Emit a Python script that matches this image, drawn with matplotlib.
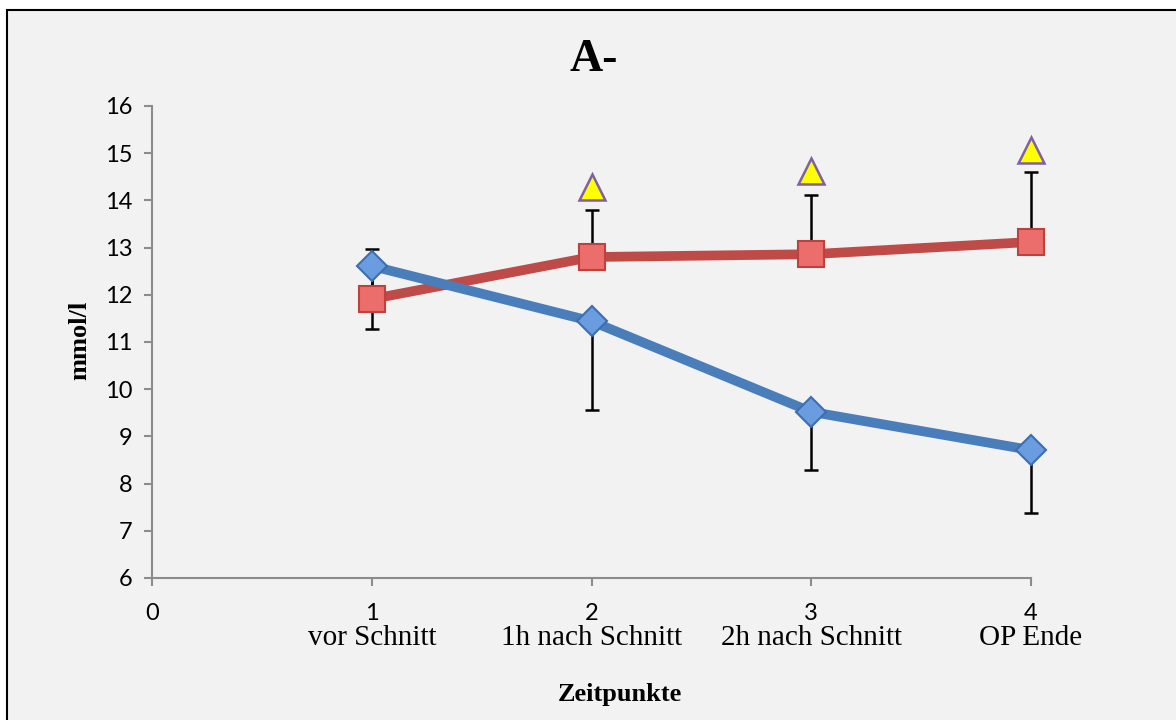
import matplotlib
matplotlib.use("Agg")
import matplotlib.pyplot as plt
from matplotlib.patches import Rectangle
from matplotlib.transforms import blended_transform_factory

# time points and labels
x = [1, 2, 3, 4]
categories = ["vor Schnitt", "1h nach Schnitt", "2h nach Schnitt", "OP Ende"]

# blue series (falls), error bars downward
blue = [12.61, 11.44, 9.52, 8.71]
blue_err = [1.33, 1.88, 1.23, 1.33]

# red series (rises), error bars upward
red = [11.91, 12.80, 12.86, 13.12]
red_err = [1.06, 1.00, 1.25, 1.48]

# significance triangles
tri_x = [2, 3, 4]
tri_y = [14.28, 14.62, 15.07]

SANS = "Lato"
SERIF = "Liberation Serif"

fig = plt.figure(figsize=(11.76, 7.2), dpi=100)
fig.patch.set_facecolor("white")
fig.patches.append(Rectangle((7 / 1176, -0.1), 1.2, 1 - 10 / 720 + 0.1,
                             transform=fig.transFigure, facecolor="#f2f2f2",
                             edgecolor="black", linewidth=1.5, zorder=-10))

ax = fig.add_axes([152 / 1176, 1 - 578 / 720, (1031 - 152) / 1176, (578 - 106) / 720])
ax.set_facecolor("none")

for yv, lo, hi in [(blue, blue_err, [0] * 4), (red, [0] * 4, red_err)]:
    eb = ax.errorbar(x, yv, yerr=[lo, hi], fmt="none", ecolor="black",
                     elinewidth=1.8, capsize=4.7, capthick=1.8, zorder=2)
    for art in eb.lines[1] + eb.lines[2]:
        art.set_clip_on(False)

ax.plot(x, blue, color="#4a7ebb", linewidth=7, marker="D", markersize=15,
        markerfacecolor="#6a9de0", markeredgecolor="#3c6eb0",
        markeredgewidth=1.5, zorder=4, clip_on=False)
ax.plot(x, red, color="#be4b48", linewidth=7, marker="s", markersize=19,
        markerfacecolor="#ec6e6c", markeredgecolor="#c0403d",
        markeredgewidth=1.5, zorder=3, clip_on=False)
ax.plot(tri_x, tri_y, linestyle="none", marker="^", markersize=19,
        markerfacecolor="#ffff00", markeredgecolor="#7f5fa8",
        markeredgewidth=1.8, zorder=5, clip_on=False)

ax.set_xlim(0, 4)
ax.set_ylim(6, 16)
ax.set_xticks([0, 1, 2, 3, 4])
ax.set_yticks(range(6, 17))
for s in ["top", "right"]:
    ax.spines[s].set_visible(False)
for s in ["left", "bottom"]:
    ax.spines[s].set_color("#8c8c8c")
    ax.spines[s].set_linewidth(1.5)
ax.tick_params(direction="out", color="#8c8c8c", width=1.5, length=6,
               labelsize=17, pad=8)
ax.tick_params(axis="x", pad=12)
for lab in ax.get_xticklabels() + ax.get_yticklabels():
    lab.set_fontfamily(SANS)

tr = blended_transform_factory(ax.transData, fig.transFigure)
for xi, cat in zip(x, categories):
    ax.text(xi, 1 - 638 / 720, cat, transform=tr, ha="center", va="center",
            fontsize=21, fontfamily=SERIF)

fig.text(620 / 1176, 1 - 695 / 720, "Zeitpunkte", ha="center", va="center",
         fontsize=19, fontweight="bold", fontfamily=SERIF)
fig.text(80 / 1176, 1 - 340 / 720, "mmol/l", ha="center", va="center",
         rotation=90, fontsize=19, fontweight="bold", fontfamily=SERIF)
fig.text(594 / 1176, 1 - 60 / 720, "A-", ha="center", va="center",
         fontsize=33, fontweight="bold", fontfamily=SERIF)

fig.savefig("out.png", dpi=100)
